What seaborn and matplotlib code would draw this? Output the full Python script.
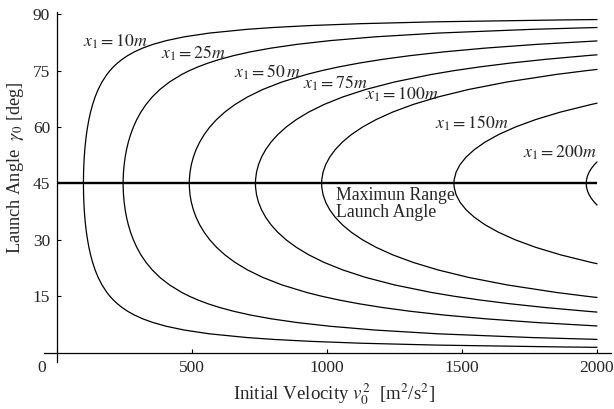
import pandas as pd
import matplotlib.pyplot as plt
import seaborn as sns
from matplotlib.transforms import ScaledTranslation

# range curves x1 (m): launch angle [deg] vs v0^2 [m^2/s^2]
ranges = [10, 25, 50, 75, 100, 150, 200]
curve_labels = [r'$x_1 = 10m$', r'$x_1 = 25m$', r'$x_1 = 50\,m$', r'$x_1 = 75m$',
                r'$x_1 = 100m$', r'$x_1 = 150m$', r'$x_1 = 200m$']

angle_10 = [1.404, 1.5, 2, 2.5, 3, 3.5, 4, 5, 6, 7, 8, 9, 10, 11, 12, 13, 14, 15, 16,
            18, 20, 22, 24, 26, 28, 30, 32, 34, 36, 38, 40, 42, 44, 45,
            46, 48, 50, 52, 54, 56, 58, 60, 62, 64, 66, 68, 70, 72, 74, 75, 76, 77,
            78, 79, 80, 81, 82, 83, 84, 85, 86, 86.5, 87, 87.5, 88, 88.5, 88.596]
v2_10 = [2000, 1872.5, 1404.9, 1124.5, 937.5, 804.1, 704.2, 564.4, 471.4, 405.1, 355.5,
         317.1, 286.5, 261.6, 240.9, 223.6, 208.7, 196.0, 184.9, 166.7, 152.5, 141.1,
         131.9, 124.4, 118.2, 113.2, 109.0, 105.7, 103.0, 101.0, 99.5, 98.5, 98.1, 98.0,
         98.1, 98.5, 99.5, 101.0, 103.0, 105.7, 109.0, 113.2, 118.2, 124.4, 131.9, 141.1,
         152.5, 166.7, 184.9, 196.0, 208.7, 223.6, 240.9, 261.6, 286.5, 317.1, 355.5,
         405.1, 471.4, 564.4, 704.2, 804.1, 937.5, 1124.5, 1404.9, 1872.5, 2000]

angle_25 = [3.518, 4, 5, 6, 7, 8, 9, 10, 11, 12, 13, 14, 15, 16,
            18, 20, 22, 24, 26, 28, 30, 32, 34, 36, 38, 40, 42, 44, 45,
            46, 48, 50, 52, 54, 56, 58, 60, 62, 64, 66, 68, 70, 72, 74, 75, 76, 77,
            78, 79, 80, 81, 82, 83, 84, 85, 86, 86.482]
v2_25 = [2000, 1760.4, 1410.9, 1178.4, 1012.7, 888.9, 792.8, 716.3, 654.0, 602.4, 558.9,
         521.9, 490.0, 462.3, 416.8, 381.1, 352.7, 329.7, 310.9, 295.5, 282.9, 272.6,
         264.2, 257.6, 252.5, 248.8, 246.3, 245.1, 245.0,
         245.1, 246.3, 248.8, 252.5, 257.6, 264.2, 272.6, 282.9, 295.5, 310.9, 329.7,
         352.7, 381.1, 416.8, 462.3, 490.0, 521.9, 558.9, 602.4, 654.0, 716.3, 792.8,
         888.9, 1012.7, 1178.4, 1410.9, 1760.4, 2000]

angle_50 = [7.091, 8, 9, 10, 11, 12, 13, 14, 15, 16,
            18, 20, 22, 24, 26, 28, 30, 32, 34, 36, 38, 40, 42, 44, 45,
            46, 48, 50, 52, 54, 56, 58, 60, 62, 64, 66, 68, 70, 72,
            74, 75, 76, 77, 78, 79, 80, 81, 82, 82.909]
v2_50 = [2000, 1777.7, 1585.7, 1432.7, 1308.1, 1204.7, 1117.8, 1043.7, 980.0, 924.7,
         833.6, 762.3, 705.4, 659.3, 621.8, 591.0, 565.8, 545.2, 528.5, 515.2, 505.0,
         497.5, 492.7, 490.3, 490.0,
         490.3, 492.7, 497.5, 505.0, 515.2, 528.5, 545.2, 565.8, 591.0, 621.8, 659.3,
         705.4, 762.3, 833.6, 924.7, 980.0, 1043.7, 1117.8, 1204.7, 1308.1, 1432.7,
         1585.7, 1777.7, 2000]

angle_75 = [10.781, 11, 12, 13, 14, 15, 16,
            18, 20, 22, 24, 26, 28, 30, 32, 34, 36, 38, 40, 42, 44, 45,
            46, 48, 50, 52, 54, 56, 58, 60, 62, 64, 66, 68, 70, 72,
            74, 75, 76, 77, 78, 79, 79.219]
v2_75 = [2000, 1962.1, 1807.1, 1676.7, 1565.6, 1470.0, 1387.0,
         1250.5, 1143.4, 1058.1, 989.0, 932.7, 886.6, 848.7, 817.8, 792.7, 772.9,
         757.5, 746.3, 739.0, 735.4, 735.0,
         735.4, 739.0, 746.3, 757.5, 772.9, 792.7, 817.8, 848.7, 886.6, 932.7, 989.0,
         1058.1, 1143.4, 1250.5, 1387.0, 1470.0, 1565.6, 1676.7, 1807.1, 1962.1, 2000]

angle_100 = [14.670, 15, 16,
             18, 20, 22, 24, 26, 28, 30, 32, 34, 36, 38, 40, 42, 44, 45,
             46, 48, 50, 52, 54, 56, 58, 60, 62, 64, 66, 68, 70, 72,
             74, 75, 75.330]
v2_100 = [2000, 1960.0, 1849.4,
          1667.3, 1524.6, 1410.8, 1318.7, 1243.6, 1182.1, 1131.6, 1090.3, 1056.9,
          1030.5, 1010.0, 995.1, 985.4, 980.6, 980.0,
          980.6, 985.4, 995.1, 1010.0, 1030.5, 1056.9, 1090.3, 1131.6, 1182.1, 1243.6,
          1318.7, 1410.8, 1524.6, 1667.3, 1849.4, 1960.0, 2000]

angle_150 = [23.653, 24, 26, 28, 30, 32, 34, 36, 38, 40, 42, 44, 45,
             46, 48, 50, 52, 54, 56, 58, 60, 62, 64, 66, 66.347]
v2_150 = [2000, 1978.0, 1865.4, 1773.1, 1697.4, 1635.5, 1585.4, 1545.7, 1515.0,
          1492.6, 1478.1, 1470.9, 1470.0,
          1470.9, 1478.1, 1492.6, 1515.0, 1545.7, 1585.4, 1635.5, 1697.4, 1773.1,
          1865.4, 1978.0, 2000]

angle_200 = [39.26, 40, 41, 42, 43, 44, 45, 46, 47, 48, 49, 50, 50.74]
v2_200 = [2000, 1990.2, 1979.2, 1970.8, 1964.7, 1961.2, 1960.0,
          1961.2, 1964.7, 1970.8, 1979.2, 1990.2, 2000]

max_range_angle = 45
v2_span = [0, 2000]
x_ticks = [0, 500, 1000, 1500, 2000]
y_ticks = [15, 30, 45, 60, 75, 90]

angles = [angle_10, angle_25, angle_50, angle_75, angle_100, angle_150, angle_200]
v2s = [v2_10, v2_25, v2_50, v2_75, v2_100, v2_150, v2_200]

frames = []
for r, a, v in zip(ranges, angles, v2s):
    frames.append(pd.DataFrame({'v2': v, 'angle': a, 'x1': r}))
df = pd.concat(frames, ignore_index=True)

sns.set_style('white')
plt.rcParams['font.family'] = ['Liberation Serif', 'DejaVu Serif']
plt.rcParams['mathtext.fontset'] = 'stix'

fig = plt.figure(figsize=(6.14, 4.09), dpi=100)
ax = fig.add_axes([0.0717, 0.1149, 0.9235, 0.8557])

sns.lineplot(data=df, x='v2', y='angle', units='x1', estimator=None, sort=False,
             color='black', lw=0.9, ax=ax)
ax.hlines(max_range_angle, v2_span[0], v2_span[1], color='black', lw=1.7)

# label positions in data coords
label_pos = [(215, 82.6), (507, 79.6), (781, 74.6), (1030, 71.7),
             (1278, 68.5), (1537, 61.1), (1863, 53.1)]
for txt, (lx, ly) in zip(curve_labels, label_pos):
    ax.text(lx, ly, txt, fontsize=12.8, ha='center', va='center')
ax.text(1033, 39.6, 'Maximun Range\nLaunch Angle', fontsize=12.8, ha='left',
        va='center', linespacing=1.0)

ax.set_xlim(-48, 2052)
ax.set_ylim(-2.5, 90.6)
ax.spines['left'].set_position(('data', 0))
ax.spines['bottom'].set_position(('data', 0))
ax.spines['top'].set_visible(False)
ax.spines['right'].set_visible(False)
for s in ['left', 'bottom']:
    ax.spines[s].set_color('black')
    ax.spines[s].set_linewidth(0.9)

ax.set_xticks(x_ticks)
ax.set_yticks(y_ticks)
ax.tick_params(axis='both', direction='in', length=3, width=0.8, color='black',
               labelsize=12.5, pad=5, bottom=True, left=True)
# origin label sits left of the y axis
lbl0 = ax.get_xticklabels()[0]
lbl0.set_transform(lbl0.get_transform() + ScaledTranslation(-0.15, 0, fig.dpi_scale_trans))

ax.set_xlabel(r'Initial Velocity $v_0^2$  [m$^2$/s$^2$]', fontsize=13.6, va='baseline')
ax.set_ylabel(r'Launch Angle  $\gamma_0$ [deg]', fontsize=13.2)
ax.xaxis.set_label_coords(0.512, -0.108)
ax.yaxis.set_label_coords(-0.031, 0.554)

fig.savefig('out.png', dpi=100)
